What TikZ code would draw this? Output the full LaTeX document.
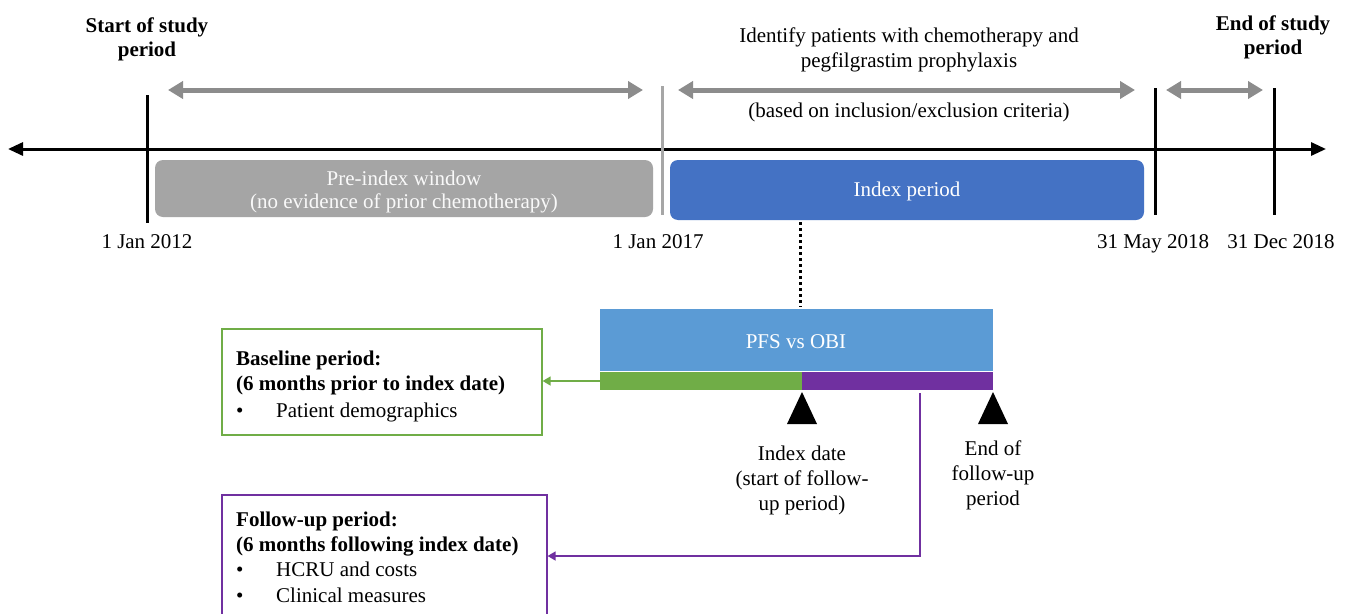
\documentclass[tikz,border=0pt]{standalone}
\usepackage{fontspec}
\setmainfont{Liberation Serif}
\usetikzlibrary{arrows.meta}
\definecolor{garrow}{HTML}{8C8C8C}
\definecolor{gline}{HTML}{A6A6A6}
\definecolor{prefill}{HTML}{A5A5A5}
\definecolor{idxfill}{HTML}{4472C4}
\definecolor{pfsfill}{HTML}{5B9BD5}
\definecolor{grn}{HTML}{70AD47}
\definecolor{purp}{HTML}{7030A0}
\tikzset{
  txt/.style={font=\fontsize{21}{25}\selectfont, inner sep=0pt, anchor=base},
  btxt/.style={txt, font=\fontsize{21}{25}\selectfont\bfseries},
  ltxt/.style={txt, anchor=base west},
  lbtxt/.style={btxt, anchor=base west},
  wtxt/.style={txt, text=white},
  grayarrow/.style={draw=garrow, line width=5pt, {Triangle[width=17pt,length=15pt]}-{Triangle[width=17pt,length=15pt]}},
  vline/.style={draw=black, line width=3pt},
  period/.style={rounded corners=8pt, draw=none},
}
\begin{document}
\begin{tikzpicture}[x=1pt,y=-1pt]
\clip (0,0) rectangle (1348,613);
\fill[white] (0,0) rectangle (1348,613);

% main axis
\coordinate (axL) at (8,149);
\coordinate (axR) at (1326,149);
\draw[line width=3pt, {Triangle[width=13pt,length=15pt]}-{Triangle[width=13pt,length=15pt]}] (axL) -- (axR);

% vertical markers
\coordinate (v1t) at (147,95);  \coordinate (v1b) at (147,223);
\coordinate (v2t) at (1155,88); \coordinate (v2b) at (1155,215);
\coordinate (v3t) at (1274,88); \coordinate (v3b) at (1274,215);
\coordinate (gvt) at (662,86);  \coordinate (gvb) at (662,215);
\draw[vline] (v1t) -- (v1b);
\draw[vline] (v2t) -- (v2b);
\draw[vline] (v3t) -- (v3b);
\draw[draw=gline, line width=3pt] (gvt) -- (gvb);

% gray double arrows
\coordinate (a1l) at (168,90); \coordinate (a1r) at (643,90);
\coordinate (a2l) at (678,90); \coordinate (a2r) at (1135,90);
\coordinate (a3l) at (1166,90); \coordinate (a3r) at (1263,90);
\draw[grayarrow] (a1l) -- (a1r);
\draw[grayarrow] (a2l) -- (a2r);
\draw[grayarrow] (a3l) -- (a3r);

% period boxes
\fill[prefill, period] (155,160) rectangle (653,217);
\fill[idxfill, period] (670,160) rectangle (1144,220);
\node[wtxt, text=white!95!gray] (pre1) at (404,185) {Pre-index window};
\node[wtxt, text=white!95!gray] (pre2) at (404,208) {(no evidence of prior chemotherapy)};
\node[wtxt] (idx) at (907,196) {Index period};

% top labels
\node[btxt] (st1) at (147,32) {Start of study};
\node[btxt] (st2) at (147,56) {period};
\node[btxt] (en1) at (1273,30) {End of study};
\node[btxt] (en2) at (1273,54) {period};
\node[txt] (id1) at (909,42) {Identify patients with chemotherapy and};
\node[txt] (id2) at (909,67) {pegfilgrastim prophylaxis};
\node[txt] (incl) at (909,117) {(based on inclusion/exclusion criteria)};

% dates
\node[txt] (d1) at (147,248) {1 Jan 2012};
\node[txt] (d2) at (658,248) {1 Jan 2017};
\node[txt] (d3) at (1153,248) {31 May 2018};
\node[txt] (d4) at (1281,248) {31 Dec 2018};

% dotted link
\coordinate (dotT) at (800,222);
\coordinate (dotB) at (800,307);
\draw[line width=3pt, dash pattern=on 3pt off 3pt] (dotT) -- (dotB);

% PFS vs OBI
\fill[pfsfill] (600,309) rectangle (993,371);
\node[wtxt] (pfs) at (796,348) {PFS vs OBI};
\fill[grn] (600,372) rectangle (802,390);
\fill[purp] (802,372) rectangle (993,390);
\coordinate (grnL) at (600,381);
\coordinate (purB) at (920,393);

% triangles
\fill (802,392) -- (787,424) -- (817,424) -- cycle;
\fill (993,392) -- (978,424) -- (1008,424) -- cycle;

\node[txt] (ix1) at (802,460) {Index date};
\node[txt] (ix2) at (802,485) {(start of follow-};
\node[txt] (ix3) at (802,510) {up period)};
\node[txt] (ef1) at (993,455) {End of};
\node[txt] (ef2) at (993,480) {follow-up};
\node[txt] (ef3) at (993,505) {period};

% baseline box
\node[draw=grn, line width=1.2pt, minimum width=320pt, minimum height=106pt, inner sep=0pt] (basebox) at (382,382) {};
\node[lbtxt] (b1) at (236,365) {Baseline period:};
\node[lbtxt] (b2) at (236,390) {(6 months prior to index date)};
\node[ltxt] (b3) at (236,417) {\textbullet};
\node[ltxt] (b4) at (276,417) {Patient demographics};

% follow-up box
\node[draw=purp, line width=1.2pt, minimum width=325pt, minimum height=130pt, inner sep=0pt] (fubox) at (384.5,560) {};
\node[lbtxt] (f1) at (236,526) {Follow-up period:};
\node[lbtxt] (f2) at (236,551) {(6 months following index date)};
\node[ltxt] (f3) at (236,576) {\textbullet};
\node[ltxt] (f4) at (276,576) {HCRU and costs};
\node[ltxt] (f5) at (236,602) {\textbullet};
\node[ltxt] (f6) at (276,602) {Clinical measures};

% connectors
\draw[grn, line width=1.5pt, -{Triangle[width=9pt,length=8pt]}] (grnL) -- (basebox.east |- grnL);
\draw[purp, line width=1.5pt, -{Triangle[width=9pt,length=8pt]}] (purB) |- (fubox.east |- 0,556);
\end{tikzpicture}
\end{document}
